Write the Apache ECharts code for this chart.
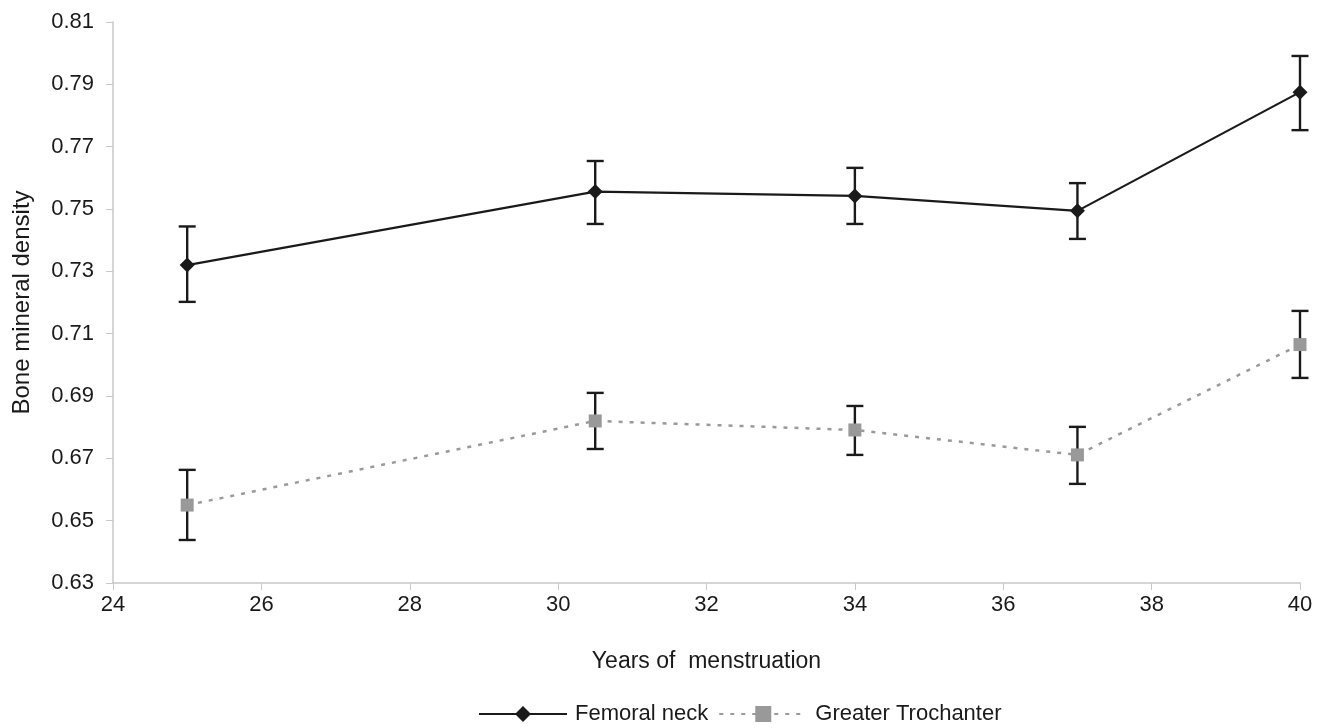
<!DOCTYPE html>
<html>
<head>
<meta charset="utf-8">
<script src="https://cdn.jsdelivr.net/npm/echarts@6/dist/echarts.min.js"></script>
<style>html,body{margin:0;padding:0;background:#fff}#c{width:1329px;height:728px}</style>
</head>
<body>
<div id="c"></div>
<script>
const years = [25, 30.5, 34, 37, 40];
const femoralNeck = [0.7320, 0.7556, 0.7542, 0.7494, 0.7875];
const femoralLow  = [0.7202, 0.7452, 0.7452, 0.7404, 0.7753];
const femoralHigh = [0.7444, 0.7654, 0.7632, 0.7583, 0.7991];
const trochanter     = [0.6550, 0.6820, 0.6791, 0.6711, 0.7065];
const trochanterLow  = [0.6438, 0.6730, 0.6711, 0.6618, 0.6958];
const trochanterHigh = [0.6663, 0.6910, 0.6868, 0.6801, 0.7173];

const font = 'Liberation Sans, Arial, sans-serif';
const fs = 22;
function errSeries(low, high) {
  return {
    type: 'custom',
    z: 1,
    silent: true,
    data: years.map((x, i) => [x, low[i], high[i]]),
    renderItem: function (params, api) {
      const top = api.coord([api.value(0), api.value(2)]);
      const bot = api.coord([api.value(0), api.value(1)]);
      const hw = 8.5;
      const st = { stroke: '#1a1a1a', lineWidth: 2.4 };
      return {
        type: 'group',
        children: [
          { type: 'line', shape: { x1: top[0], y1: top[1], x2: bot[0], y2: bot[1] }, style: st },
          { type: 'line', shape: { x1: top[0] - hw, y1: top[1], x2: top[0] + hw, y2: top[1] }, style: st },
          { type: 'line', shape: { x1: bot[0] - hw, y1: bot[1], x2: bot[0] + hw, y2: bot[1] }, style: st }
        ]
      };
    }
  };
}
const chart = echarts.init(document.getElementById('c'));
chart.setOption({
  animation: false,
  backgroundColor: '#fff',
  grid: { left: 113, right: 29, top: 22, bottom: 145, containLabel: false, outerBoundsMode: 'none' },
  xAxis: {
    type: 'value', min: 24, max: 40, interval: 2,
    name: 'Years of  menstruation', nameLocation: 'middle', nameGap: 67,
    nameTextStyle: { fontFamily: font, fontSize: 23, color: '#1a1a1a' },
    axisLine: { lineStyle: { color: '#c8c8c8', width: 1.5 } },
    axisTick: { show: true, length: 7, lineStyle: { color: '#c8c8c8' } },
    axisLabel: { fontFamily: font, fontSize: fs, color: '#1a1a1a', margin: 11 },
    splitLine: { show: false }
  },
  yAxis: {
    type: 'value', min: 0.63, max: 0.81, interval: 0.02,
    name: 'Bone mineral density', nameLocation: 'middle', nameGap: 79, nameRotate: 90,
    nameTextStyle: { fontFamily: font, fontSize: 24, color: '#1a1a1a' },
    axisLine: { show: true, lineStyle: { color: '#c8c8c8', width: 1.5 } },
    axisTick: { show: true, length: 7, lineStyle: { color: '#c8c8c8' } },
    axisLabel: { fontFamily: font, fontSize: fs, color: '#1a1a1a', margin: 19, formatter: v => v.toFixed(2) },
    splitLine: { show: false }
  },
  legend: {
    top: 698, left: 473,
    itemWidth: 88, itemHeight: 20, itemGap: 10,
    textStyle: { fontFamily: font, fontSize: fs, color: '#1a1a1a', padding: [0, 0, 0, 3] },
    data: ['Femoral neck', 'Greater Trochanter']
  },
  series: [
    errSeries(femoralLow, femoralHigh),
    errSeries(trochanterLow, trochanterHigh),
    {
      name: 'Femoral neck', type: 'line', z: 3,
      data: years.map((x, i) => [x, femoralNeck[i]]),
      symbol: 'diamond', symbolSize: 15,
      lineStyle: { color: '#1a1a1a', width: 2.2 },
      itemStyle: { color: '#1a1a1a' }
    },
    {
      name: 'Greater Trochanter', type: 'line', z: 3,
      data: years.map((x, i) => [x, trochanter[i]]),
      symbol: 'rect', symbolSize: 13,
      lineStyle: { color: '#9a9a9a', width: 2.5, type: [4, 7] },
      itemStyle: { color: '#999999' }
    }
  ]
});
</script>
</body>
</html>
